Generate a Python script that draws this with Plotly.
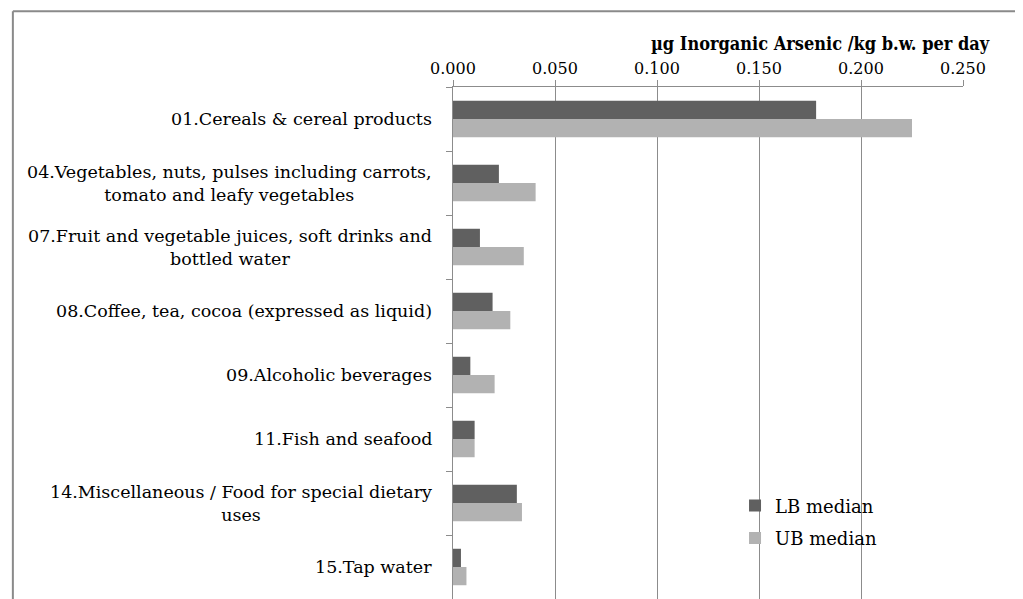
import plotly.graph_objects as go

categories = [
    "01.Cereals & cereal products",
    "04.Vegetables, nuts, pulses including carrots,<br>tomato and leafy vegetables",
    "07.Fruit and vegetable juices, soft drinks and<br>bottled water",
    "08.Coffee, tea, cocoa (expressed as liquid)",
    "09.Alcoholic beverages",
    "11.Fish and seafood",
    "14.Miscellaneous / Food for special dietary<br>uses",
    "15.Tap water",
]
lb_median = [0.178, 0.0225, 0.0132, 0.0194, 0.0085, 0.0106, 0.0313, 0.0039]
ub_median = [0.225, 0.0405, 0.0347, 0.0281, 0.0204, 0.0106, 0.0338, 0.0066]
x_ticks = [0.0, 0.05, 0.10, 0.15, 0.20, 0.25]
x_tick_labels = ["0.000", "0.050", "0.100", "0.150", "0.200", "0.250"]
axis_title = "µg Inorganic Arsenic /kg b.w. per day"

FONT = "DejaVu Serif, Liberation Serif, serif"
FONT_C = "DejaVu Serif Condensed, DejaVu Serif, serif"
GRID = "#8c8c8c"

fig = go.Figure()
fig.add_trace(go.Bar(y=categories, x=lb_median, orientation="h", name="LB median",
                     marker=dict(color="#606060", line=dict(width=0)), legendgroup="a"))
fig.add_trace(go.Bar(y=categories, x=ub_median, orientation="h", name="UB median",
                     marker=dict(color="#b2b2b2", line=dict(width=0)), legendgroup="b"))

# category labels as centred multi-line annotations
for c in categories:
    fig.add_annotation(x=0, xref="paper", y=c, yref="y", text=c, showarrow=False,
                       xanchor="right", align="center", xshift=-19,
                       font=dict(family=FONT, size=17.5, color="#000"))

fig.add_annotation(x=1.056, xref="paper", y=1.084, yref="paper", text="<b>" + axis_title + "</b>",
                   showarrow=False, xanchor="right", yanchor="middle",
                   font=dict(family=FONT_C, size=18, color="#000"))

# outer frame (left and top)
fig.add_shape(type="line", xref="paper", yref="paper", x0=-0.863, x1=-0.863, y0=-0.1, y1=1.148,
              line=dict(color="#8a8a8a", width=2))
fig.add_shape(type="line", xref="paper", yref="paper", x0=-0.863, x1=1.2, y0=1.148, y1=1.148,
              line=dict(color="#8a8a8a", width=2))

fig.update_layout(
    width=1015, height=591,
    margin=dict(l=445, r=60, t=79, b=0),
    paper_bgcolor="white", plot_bgcolor="white",
    barmode="group", bargap=0.43, bargroupgap=0,
    font=dict(family=FONT, size=16, color="#000"),
    showlegend=True,
    legend=dict(x=0.553, y=0.218, xanchor="left", yanchor="top",
                traceorder="grouped", tracegroupgap=6,
                font=dict(family=FONT, size=18, color="#000"),
                bgcolor="rgba(0,0,0,0)"),
    xaxis=dict(side="top", range=[0, 0.25], tickvals=x_ticks, ticktext=x_tick_labels,
               showgrid=True, gridcolor=GRID, gridwidth=1,
               showline=True, linecolor=GRID, linewidth=1,
               ticks="outside", ticklen=6, tickcolor=GRID,
               zeroline=False, tickfont=dict(family=FONT, size=16), fixedrange=True),
    yaxis=dict(type="category", autorange="reversed", showticklabels=False,
               ticks="outside", ticklen=6, tickcolor=GRID, tickson="boundaries",
               showline=True, linecolor=GRID, linewidth=1, showgrid=False,
               zeroline=False, fixedrange=True),
)

fig.write_html("out.html")
